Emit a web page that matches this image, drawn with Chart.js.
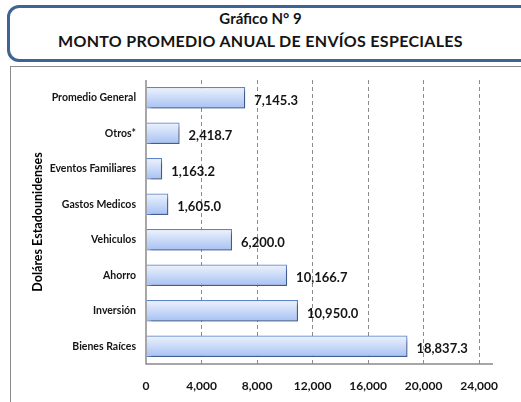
<!DOCTYPE html>
<html><head><meta charset="utf-8">
<script src="https://cdn.jsdelivr.net/npm/chart.js@4/dist/chart.umd.min.js"></script>
<style>
html,body{margin:0;padding:0;background:#fff;width:521px;height:402px;overflow:hidden;position:relative;font-family:Lato,"Open Sans",sans-serif;}
#tbox{position:absolute;left:7px;top:5px;width:540px;height:51px;border:3px solid #3d6494;border-radius:12px;box-sizing:content-box;}
#t1,#t2{position:absolute;left:0;width:521px;text-align:center;font-weight:bold;color:#141414;}
#t1{top:9px;font-size:15px;}
#t2{top:31px;font-size:16px;letter-spacing:0.3px;}
#frame{position:absolute;left:10px;top:66px;width:540px;height:400px;border:1.5px solid #8a8a8a;}
#c{position:absolute;left:0;top:0;}
</style></head>
<body>
<div id="tbox"></div>
<div id="t1">Gráfico N° 9</div>
<div id="t2">MONTO PROMEDIO ANUAL DE ENVÍOS ESPECIALES</div>
<div id="frame"></div>
<canvas id="c" width="521" height="402"></canvas>
<script>
const categories = ["Promedio General","Otros*","Eventos Familiares","Gastos Medicos","Vehiculos","Ahorro","Inversión","Bienes Raíces"];
const values = [7145.3, 2418.7, 1163.2, 1605.0, 6200.0, 10166.7, 10950.0, 18837.3];
const tickValues = [0, 4000, 8000, 12000, 16000, 20000, 24000];
const axisTitle = "Doláres Estadounidenses";

const fmt = v => v.toLocaleString('en-US',{minimumFractionDigits:1,maximumFractionDigits:1});
const fmtTick = v => v.toLocaleString('en-US');
const FONT = 'Lato, "Open Sans", sans-serif';

const shadowPlugin = {
  id:'shadow',
  beforeDatasetsDraw(chart){
    const ctx=chart.ctx; ctx.save();
    ctx.shadowColor='rgba(0,0,0,0.35)'; ctx.shadowOffsetX=3; ctx.shadowOffsetY=3; ctx.shadowBlur=3;
  },
  afterDatasetsDraw(chart){
    chart.ctx.restore();
    const ctx=chart.ctx;
    const meta=chart.getDatasetMeta(0);
    ctx.save();
    ctx.font='bold 13px ' + FONT;
    ctx.fillStyle='#141414';
    ctx.textBaseline='middle';
    ctx.textAlign='left';
    meta.data.forEach((el,i)=>{
      ctx.fillText(fmt(values[i]), el.x+9, el.y+3);
    });
    ctx.restore();
  }
};

const frameLines = {
  id:'frameLines',
  afterDraw(chart){
    const {ctx, chartArea:a} = chart;
    ctx.save();
    ctx.strokeStyle='#8a8a8a'; ctx.lineWidth=1.5; ctx.setLineDash([]);
    ctx.beginPath();
    ctx.moveTo(a.left, a.top); ctx.lineTo(a.left, a.bottom); ctx.lineTo(a.right, a.bottom);
    ctx.stroke();
    ctx.restore();
  }
};

new Chart(document.getElementById('c'), {
  type:'bar',
  data:{
    labels:categories,
    datasets:[{
      data:values,
      categoryPercentage:0.6,
      barPercentage:1,
      borderWidth:1.2,
      borderColor:'#5b84c9',
      backgroundColor:(c)=>{
        const chart=c.chart; const y=chart.scales.y;
        if(!y || c.dataIndex==null) return '#c4d6f7';
        const cy=y.getPixelForValue(c.dataIndex);
        const h=(y.height/categories.length)*0.6/2;
        if(!isFinite(cy) || !isFinite(h) || h<=0) return '#c4d6f7';
        const g=chart.ctx.createLinearGradient(0,cy-h,0,cy+h);
        g.addColorStop(0,'#eef3fd');
        g.addColorStop(1,'#a6c1f3');
        return g;
      }
    }]
  },
  options:{
    indexAxis:'y',
    responsive:false,
    animation:false,
    devicePixelRatio:1,
    layout:{padding:{left:30,top:80,right:28,bottom:0}},
    plugins:{legend:{display:false},tooltip:{enabled:false}},
    scales:{
      x:{
        min:0,max:25000,
        afterBuildTicks(s){ s.ticks = tickValues.map(v=>({value:v})); },
        afterFit(s){ s.height = 38; },
        border:{display:false, dash:[4,3]},
        grid:{color:(c)=> c.tick && c.tick.value===0 ? 'rgba(0,0,0,0)' : '#8c8c8c', drawTicks:false, lineWidth:1},
        ticks:{padding:15, color:'#141414', font:{family:FONT, weight:'bold', size:12}, callback:(v)=>fmtTick(v), maxRotation:0}
      },
      y:{
        afterFit(s){ s.width = 116; },
        border:{display:false},
        grid:{display:false, drawTicks:false},
        ticks:{padding:10, color:'#141414', font:{family:FONT, weight:'bold', size:10.5}},
        title:{display:true, text:axisTitle, color:'#000', font:{family:FONT, weight:'bold', size:12.5}, padding:{top:0,bottom:8}}
      }
    }
  },
  plugins:[shadowPlugin, frameLines]
});
</script>
</body></html>
